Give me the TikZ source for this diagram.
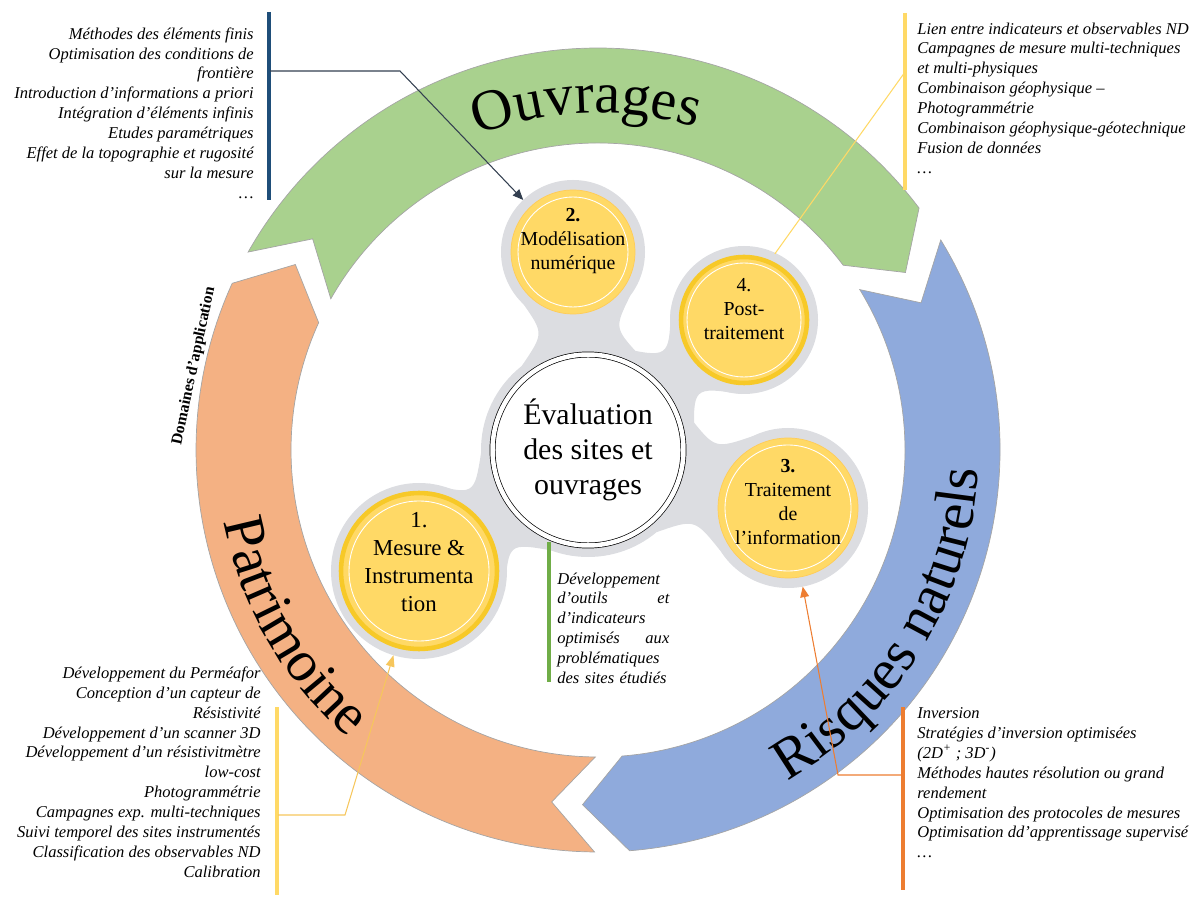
\documentclass[tikz,border=0pt]{standalone}
\usepackage{fontspec}
\setmainfont{Liberation Serif}
\usetikzlibrary{
    positioning,
    calc,
    arrows.meta,
    decorations.text
}
\definecolor{VertOuvrages}{HTML}{A9D18E}
\definecolor{BleuRisques}{HTML}{8FAADC}
\definecolor{OrangePatrimoine}{HTML}{F4B183}
\definecolor{JauneDisque}{HTML}{FFD966}
\definecolor{OrDisque}{HTML}{F7C928}
\definecolor{JauneTrait}{HTML}{F6C65C}
\definecolor{GrisHalo}{HTML}{DCDDE1}
\definecolor{GrisBord}{HTML}{A5A5A5}
\definecolor{BleuFonce}{HTML}{1F4E79}
\definecolor{OrangeFonce}{HTML}{ED7D31}
\definecolor{VertFonce}{HTML}{70AD47}
\definecolor{GrisFleche}{HTML}{333F50}

\newcommand{\Rext}{402}
\newcommand{\Rint}{307}
\newcommand{\Rmil}{355}
\newcommand{\segmentanneau}[3]{%
    \path[bande, fill=#1] (#2:\Rext) arc[start angle=#2, end angle=#3, radius=\Rext]
        -- ({#3-7}:\Rmil) -- (#3:\Rint) arc[start angle=#3, end angle=#2, radius=\Rint]
        -- ({#2-7}:\Rmil) -- cycle;}
% col gris entre le disque central et un disque : angle, distance, rayon, demi-largeur
\newcommand{\colgris}[4]{%
    \pgfmathsetmacro{\xa}{107*cos(34)}\pgfmathsetmacro{\ya}{107*sin(34)}
    \pgfmathsetmacro{\xb}{#2-#3*cos(48)}\pgfmathsetmacro{\yb}{#3*sin(48)}
    \pgfmathsetmacro{\xc}{(\xa+\xb)/2}\pgfmathsetmacro{\yc}{2*#4-(\ya+\yb)/2}
    \fill[GrisHalo, shift={(pEval)}, rotate=#1] (\xa,\ya) .. controls (\xc,\yc) .. (\xb,\yb)
        -- (\xb,-\yb) .. controls (\xc,-\yc) .. (\xa,-\ya) -- cycle;}

\tikzset{
    bande/.style={draw=GrisBord, line width=0.4pt},
    disque/.style={circle, fill=JauneDisque, draw=JauneDisque!85!orange, line width=0.4pt, inner sep=0pt, outer sep=0.2cm},
    disqueor/.style={disque, draw=OrDisque, line width=2.6pt},
    etiquette/.style={align=center, inner sep=0pt, font=\fontsize{11.3}{13.6}\selectfont},
    liste/.style={inner sep=0pt, font=\fontsize{9.4}{11.3}\selectfont\itshape},
    barre/.style={line width=2.3pt},
    lien/.style={line width=0.6pt},
    grandtitre/.style={decorate, decoration={text along path, text align=center,
        text={|\fontsize{33}{33}\selectfont\upshape|#1}}}
}

\begin{document}
\begin{tikzpicture}[x=0.02cm, y=0.02cm]
\useasboundingbox (0,0) rectangle (1202,896);

% anneau des domaines
\begin{scope}[shift={(598,446)}]
    \segmentanneau{VertOuvrages}{150.5}{37}
    \segmentanneau{BleuRisques}{31.5}{-85.5}
    \segmentanneau{OrangePatrimoine}{-90.5}{-204.5}
    \path[grandtitre=Ouvrages] (132:337) arc[start angle=132, end angle=52, radius=337];
    \path[grandtitre=Risques naturels] (-80:381) arc[start angle=-80, end angle=17, radius=381];
    \path[grandtitre=Patrimoine] (160:381) arc[start angle=160, end angle=260, radius=381];
\end{scope}

\node[rotate=78, inner sep=0pt, font=\fontsize{9}{10}\selectfont\upshape\bfseries] (domaines) at (194,530) {Domaines d'application};

\coordinate (pEval) at (588,446);
\coordinate (p1) at (419,325);
\coordinate (p2) at (573,644);
\coordinate (p3) at (788,388);
\coordinate (p4) at (744,576);

% fond gris
\fill[GrisHalo] (pEval) circle[radius=107] (p1) circle[radius=88] (p2) circle[radius=72]
    (p3) circle[radius=80] (p4) circle[radius=74];
\colgris{94.3}{198.6}{72}{46}
\colgris{39.8}{203}{74}{38}
\colgris{-16.2}{208.2}{80}{48}
\colgris{215.6}{207.8}{88}{46}

\node[disque, minimum size=2.48cm] (c2) at (p2) {};
\node[disqueor, minimum size=2.52cm] (c4) at (p4) {};
\node[disque, minimum size=2.8cm] (c3) at (p3) {};
\node[disqueor, minimum size=3.12cm] (c1) at (p1) {};
\draw[white, line width=0.5pt] (p2) circle[radius=55] (p4) circle[radius=57]
    (p3) circle[radius=63] (p1) circle[radius=70];

\node[
    circle,
    fill=white,
    draw=black,
    line width=0.4pt,
    double=white,
    double distance=0.09cm,
    minimum size=3.82cm,
    align=center,
    font=\fontsize{17}{19.8}\selectfont
] (eval) at (pEval) {Évaluation\\des sites et\\ouvrages};

\node[etiquette] (t2) at (573,655) {\textbf{2.}\\Modélisation\\numérique};
\node[etiquette] (t4) at (744,587) {4.\\Post-\\traitement};
\node[etiquette] (t3) at (788,394) {\textbf{3.}\\Traitement\\de\\l'information};
\node[etiquette, font=\fontsize{13}{15.9}\selectfont] (t1) at (419,334) {1.\\Mesure \&\\Instrumenta\\tion};

% listes et barres
\draw[barre, BleuFonce] (269,884) -- (269,696);
\draw[barre, JauneDisque] (905,883) -- (905,706);
\draw[barre, JauneDisque] (277,189) -- (277,1);
\draw[barre, OrangeFonce] (903,189) -- (903,6);
\draw[barre, VertFonce] (549,354) -- (549,214);

\coordinate (tlbar) at (270,825);
\coordinate (trbar) at (905,824);
\coordinate (blbar) at (278,81);
\coordinate (brbar) at (902,121);

\node[liste, anchor=east, align=right] (listeouvr) at (254,783) {%
    Méthodes des éléments finis\\
    Optimisation des conditions de\\
    frontière\\
    Introduction d'informations a priori\\
    Intégration d'éléments infinis\\
    Etudes paramétriques\\
    Effet de la topographie et rugosité\\
    sur la mesure\\
    \dots};

\node[liste, anchor=west, align=left] (listepost) at (917,798) {%
    Lien entre indicateurs et observables ND\\
    Campagnes de mesure multi-techniques\\
    et multi-physiques\\
    Combinaison géophysique --\\
    Photogrammétrie\\
    Combinaison géophysique-géotechnique\\
    Fusion de données\\
    \dots};

\node[liste, anchor=east, align=right] (listemesure) at (261,124) {%
    Développement du Perméafor\\
    Conception d'un capteur de\\
    Résistivité\\
    Développement d'un scanner 3D\\
    Développement d'un résistivitmètre\\
    low-cost\\
    Photogrammétrie\\
    Campagnes exp. multi-techniques\\
    Suivi temporel des sites instrumentés\\
    Classification des observables ND\\
    Calibration};

\node[liste, anchor=west, align=left] (listetrait) at (917,113) {%
    Inversion\\
    Stratégies d'inversion optimisées\\
    (2D\textsuperscript{+} ; 3D\textsuperscript{-})\\
    Méthodes hautes résolution ou grand\\
    rendement\\
    Optimisation des protocoles de mesures\\
    Optimisation dd'apprentissage supervisé\\
    \dots};

\node[liste, anchor=west, align=left, text width=2.24cm] (listeeval) at (557,268) {%
    Développement\\
    d'outils\hfill et\\
    d'indicateurs\\
    optimisés\hfill aux\\
    problématiques\\
    des sites étudiés};

% renvois
\draw[lien, GrisFleche, -{Triangle[length=6pt, width=5pt]}] (tlbar) -- ++(130,0) -- (c2);
\draw[lien, JauneDisque] (trbar) -- (c4.65);
\draw[lien, JauneTrait, -{Triangle[length=6.5pt, width=5pt]}] (blbar) -- ++(67,0) -- (c1);
\draw[lien, OrangeFonce, -{Triangle[length=6pt, width=5pt]}] (brbar) -- ++(-64,0) -- (c3);
\end{tikzpicture}
\end{document}
